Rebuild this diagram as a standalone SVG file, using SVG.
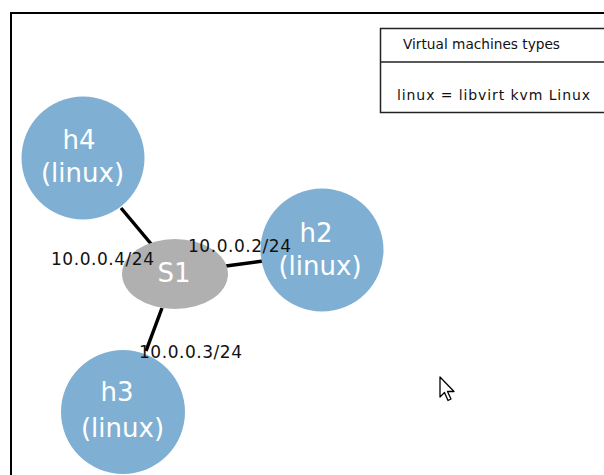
<svg xmlns="http://www.w3.org/2000/svg" width="604" height="475" viewBox="0 0 604 475">
  <style>
    .host { fill: #7fb0d3; }
    .switch { fill: #b0b0b0; }
    .nlabel { font-family: "DejaVu Sans", sans-serif; font-size: 26px; fill: #ffffff; text-anchor: middle; }
    .link { stroke: #000; stroke-width: 3.5; fill: none; }
    .ip { font-family: "DejaVu Sans", sans-serif; font-size: 17px; fill: #111; }
    .legend { font-family: "DejaVu Sans", sans-serif; font-size: 14px; fill: #111; }
  </style>
  <rect width="604" height="475" fill="#ffffff"/>
  <!-- canvas frame -->
  <path d="M11,476 V13 H606" fill="none" stroke="#000" stroke-width="2"/>

  <!-- legend -->
  <g id="legend">
    <rect x="380.5" y="28.5" width="230" height="84" fill="#fff" stroke="#222" stroke-width="1.5"/>
    <line x1="380.5" y1="62" x2="610" y2="62" stroke="#222" stroke-width="1.5"/>
    <text class="legend" x="403" y="49" textLength="157" lengthAdjust="spacingAndGlyphs">Virtual machines types</text>
    <text class="legend" x="397" y="100" textLength="193" lengthAdjust="spacing">linux = libvirt kvm Linux</text>
  </g>

  <!-- links -->
  <g id="links">
    <line class="link" x1="121" y1="208" x2="152" y2="245"/>
    <line class="link" x1="226" y1="266" x2="263" y2="261"/>
    <line class="link" x1="162" y1="308" x2="146" y2="351"/>
  </g>

  <g id="S1">
    <ellipse class="switch" cx="175" cy="274" rx="53" ry="35"/>
    <text class="nlabel" x="174" y="282">S1</text>
  </g>
  <g id="h4">
    <circle class="host" cx="83" cy="158" r="61.5"/>
    <text class="nlabel" x="79" y="149">h4</text>
    <text class="nlabel" x="82.5" y="182">(linux)</text>
  </g>
  <g id="h2">
    <circle class="host" cx="322" cy="250" r="61.5"/>
    <text class="nlabel" x="316" y="242">h2</text>
    <text class="nlabel" x="320" y="275">(linux)</text>
  </g>
  <g id="h3">
    <circle class="host" cx="123" cy="412" r="62"/>
    <text class="nlabel" x="117" y="401">h3</text>
    <text class="nlabel" x="122.5" y="437">(linux)</text>
  </g>

  <!-- interface addresses, drawn above the nodes -->
  <g id="link-labels">
    <text class="ip" x="51" y="265" textLength="103">10.0.0.4/24</text>
    <text class="ip" x="188" y="252" textLength="103">10.0.0.2/24</text>
    <text class="ip" x="139" y="358" textLength="103">10.0.0.3/24</text>
  </g>

  <!-- pointer -->
  <path d="M440,377 V397 L444.5,392.5 L448,400.5 L451,399 L447.5,391.5 H454 Z" fill="#fff" stroke="#000" stroke-width="1.3" stroke-linejoin="round"/>
</svg>
